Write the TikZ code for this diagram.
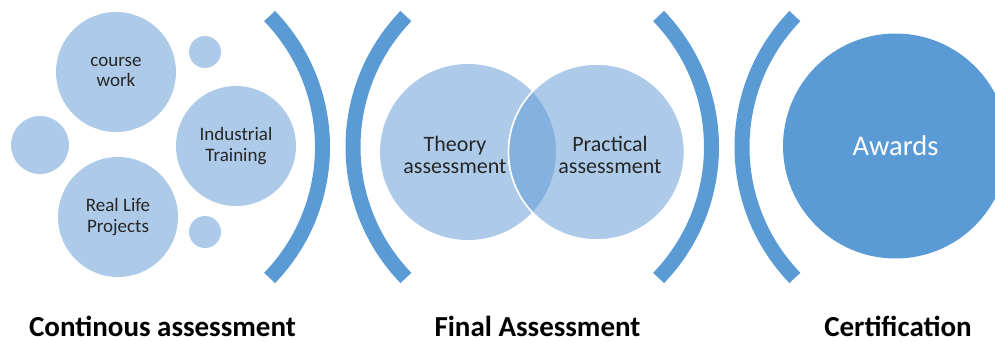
\documentclass[tikz,border=0pt]{standalone}
\usepackage{fontspec}
\setmainfont{Carlito}
\usetikzlibrary{positioning}
\definecolor{lightb}{RGB}{173,203,233}
\definecolor{midb}{RGB}{91,155,213}
\definecolor{overb}{RGB}{133,177,222}
\definecolor{txt}{RGB}{38,38,38}
\tikzset{
  bubble/.style={circle, fill=lightb, inner sep=0pt, text=txt, align=center},
  bracket/.style={draw=midb, line width=15pt, line cap=butt},
  small/.style={font=\fontsize{19}{20.5}\selectfont},
  venn/.style={font=\fontsize{22}{22.5}\selectfont},
  caption/.style={font=\bfseries\fontsize{29}{30}\selectfont, anchor=base, text=black, inner sep=0pt, text depth=0pt},
}
\begin{document}
\begin{tikzpicture}[x=1pt,y=-1pt]
\useasboundingbox (0,0) rectangle (995,342);
\clip (0,0) rectangle (995,342);
% continuous assessment cluster
\node[bubble, small, minimum size=120] (cw) at (116,72) {course\\work};
\node[bubble, minimum size=32] (s1) at (205,52) {};
\node[bubble, minimum size=58] (s2) at (40,145) {};
\node[bubble, small, minimum size=120] (it) at (236,146) {Industrial\\Training};
\node[bubble, small, minimum size=120] (rl) at (118,217) {Real Life\\Projects};
\node[bubble, minimum size=32] (s3) at (205,232) {};
% brackets
\coordinate (b1) at (134,147);
\coordinate (b2) at (541.5,147);
\coordinate (b3) at (523,147);
\coordinate (b4) at (930.5,147);
\draw[bracket] ([shift={(-44:188.5)}]b1) arc[start angle=-44, end angle=44, radius=188.5];
\draw[bracket] ([shift={(136:188.5)}]b2) arc[start angle=136, end angle=224, radius=188.5];
\draw[bracket] ([shift={(-44:188.5)}]b3) arc[start angle=-44, end angle=44, radius=188.5];
\draw[bracket] ([shift={(136:188.5)}]b4) arc[start angle=136, end angle=224, radius=188.5];
% venn
\node[bubble, minimum size=176] (th) at (468,152) {};
\node[bubble, minimum size=176, draw=white, line width=1.5pt] (pr) at (596.5,152) {};
\begin{scope}
  \clip (468,152) circle[radius=88];
  \fill[overb] (596.5,152) circle[radius=88];
  \draw[white, line width=1.5pt] (596.5,152) circle[radius=88];
\end{scope}
\node[venn, text=txt, align=center] (tht) at (455,155) {Theory\\assessment};
\node[venn, text=txt, align=center] (prt) at (610,155) {Practical\\assessment};
% awards
\node[circle, fill=midb, minimum size=225, inner sep=0pt, text=white,
      font=\fontsize{28.5}{30}\selectfont] (aw) at (895.5,146) {Awards};
% captions
\node[caption] (c1) at (162.5,336) {Continous assessment};
\node[caption] (c2) at (537.5,336) {Final Assessment};
\node[caption] (c3) at (898,336) {Certification};
\end{tikzpicture}
\end{document}
